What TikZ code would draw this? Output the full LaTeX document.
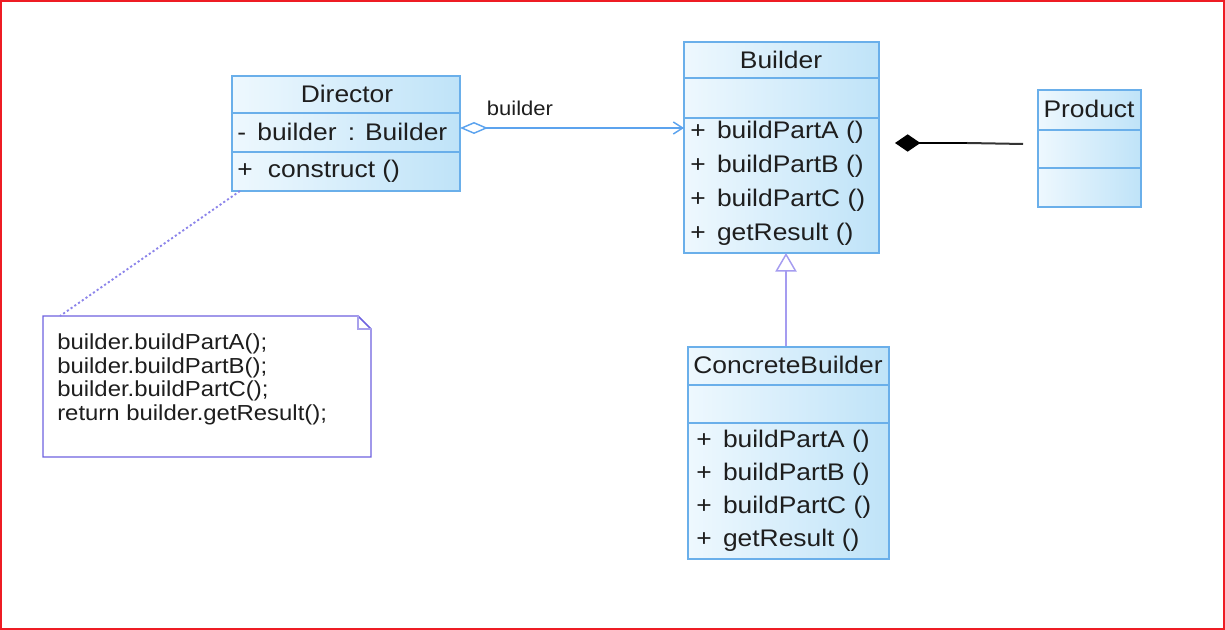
\documentclass[tikz,border=0pt]{standalone}
\usepackage{fontspec}
\setmainfont{Liberation Sans}[FakeStretch=1.1]
\usetikzlibrary{arrows.meta,fit}

\definecolor{boxline}{HTML}{6AAFEA}
\definecolor{boxlight}{HTML}{EEF8FE}
\definecolor{boxdark}{HTML}{BFE3F8}
\definecolor{assoc}{HTML}{5CA3EE}
\definecolor{lav}{HTML}{A59CF0}
\definecolor{linkc}{HTML}{8C84EA}
\definecolor{notedge}{HTML}{6E62E0}
\definecolor{txt}{HTML}{1E1E1E}
\definecolor{frame}{HTML}{EE1C24}

\begin{document}
\begin{tikzpicture}[x=0.75pt,y=-0.75pt,
  classbox/.style={draw=boxline, line width=1.3pt, inner sep=0pt,
    left color=boxlight, right color=boxdark},
  sepline/.style={draw=boxline, line width=1.2pt},
  title/.style={font=\fontsize{18}{21}\selectfont, text=txt, inner sep=0pt},
  member/.style={font=\fontsize{18}{21}\selectfont, text=txt, inner sep=0pt, anchor=west},
  notetext/.style={font=\fontsize{16.3}{19}\selectfont, text=txt, inner sep=0pt, anchor=base west},
  lbl/.style={font=\fontsize{15}{18}\selectfont, text=txt, inner sep=0pt}
]
% canvas and red frame
\useasboundingbox (0,0) rectangle (1225,630);
\draw[frame, line width=1.5pt] (1,1) rectangle (1224,629);

% ---- Director ----
\node[classbox, fit={(232,76) (460,191)}] (dir) {};
\draw[sepline] (232,113) -- (460,113);
\draw[sepline] (232,152) -- (460,152);
\node[title] (dirT) at (347,94) {Director};
\node[member] (dirA) at (237,132) {-\, builder\, : Builder};
\node[member] (dirO) at (237,171) {+\,\, construct ()};

% ---- Builder ----
\node[classbox, fit={(684,42) (879,253)}] (bld) {};
\draw[sepline] (684,78) -- (879,78);
\draw[sepline] (684,118) -- (879,118);
\node[title] (bldT) at (781,60) {Builder};
\node[member] (bld1) at (690,132) {+\, buildPartA ()};
\node[member] (bld2) at (690,166) {+\, buildPartB ()};
\node[member] (bld3) at (690,200) {+\, buildPartC ()};
\node[member] (bld4) at (690,234) {+\, getResult ()};

% ---- Product ----
\node[classbox, fit={(1038,90) (1141,207)}] (prd) {};
\draw[sepline] (1038,130) -- (1141,130);
\draw[sepline] (1038,168) -- (1141,168);
\node[title] (prdT) at (1089,109) {Product};

% ---- ConcreteBuilder ----
\node[classbox, fit={(688,347) (889,559)}] (cb) {};
\draw[sepline] (688,385) -- (889,385);
\draw[sepline] (688,423) -- (889,423);
\node[title] (cbT) at (788,365) {ConcreteBuilder};
\node[member] (cb1) at (696,441) {+\, buildPartA ()};
\node[member] (cb2) at (696,474) {+\, buildPartB ()};
\node[member] (cb3) at (696,507) {+\, buildPartC ()};
\node[member] (cb4) at (696,540) {+\, getResult ()};

% ---- note with folded corner ----
\draw[notedge, line width=1.1pt, fill=white]
  (43,316) -- (358,316) -- (371,329) -- (371,457) -- (43,457) -- cycle;
\draw[notedge!60, line width=0.8pt] (358,316) -- (358,329) -- (371,329);
\coordinate (note) at (60,316);
\node[notetext] (n1) at (57,350) {builder.buildPartA();};
\node[notetext] (n2) at (57,374) {builder.buildPartB();};
\node[notetext] (n3) at (57,397) {builder.buildPartC();};
\node[notetext] (n4) at (57,421) {return builder.getResult();};

% ---- connectors ----
% aggregation Director -> Builder
\coordinate (aggS) at (460,128);
\coordinate (aggE) at (684,128);
\draw[assoc, line width=1.1pt,
  {Diamond[open, length=21pt, width=9pt, line width=1.1pt]}-{Straight Barb[length=7pt, width=9pt, line width=1.1pt]}]
  (aggS) -- (aggE);
\node[lbl] (aggL) at (520,108) {builder};

% generalization ConcreteBuilder -> Builder
\coordinate (genTop) at (786,253);
\draw[lav, line width=1.1pt, -{Triangle[open, length=14pt, width=16pt, line width=1.1pt]}]
  (cb.north -| genTop) -- (genTop);

% composition (free line with filled diamond)
\coordinate (compA) at (895,143);
\coordinate (compM) at (967,143);
\coordinate (compB) at (1023,144);
\draw[black, line width=1.5pt, {Diamond[length=19pt, width=13pt]}-] (compA) -- (compM);
\draw[black!80, line width=1.5pt] (compM) -- (compB);

% note link
\draw[linkc, line width=1.4pt, dash pattern=on 1.6pt off 1.8pt] (240,191) -- (note);
\end{tikzpicture}
\end{document}
